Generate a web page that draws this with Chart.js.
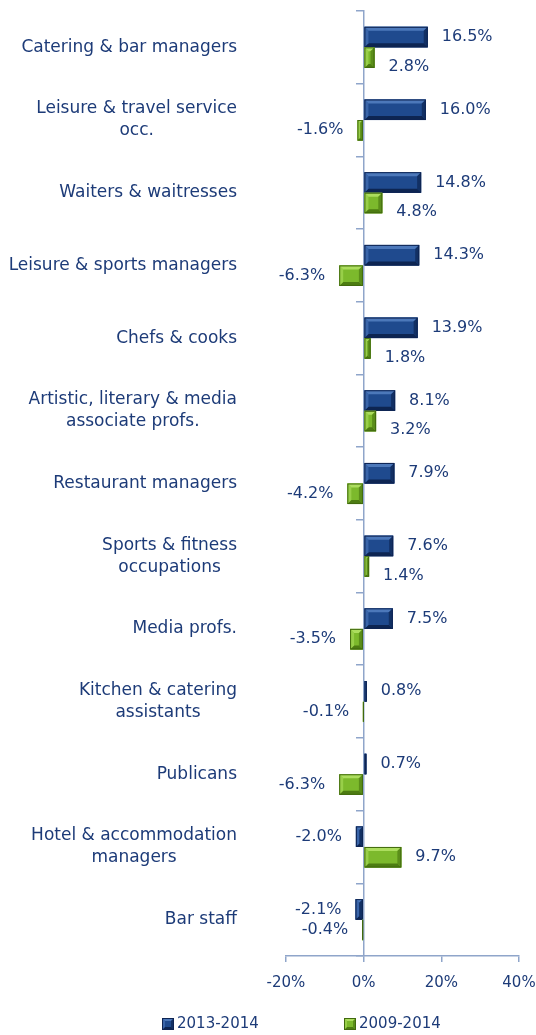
<!DOCTYPE html>
<html>
<head>
<meta charset="utf-8">
<script src="https://cdn.jsdelivr.net/npm/chart.js@4/dist/chart.umd.min.js"></script>
<style>
  html, body { margin: 0; padding: 0; background: #fff; }
</style>
</head>
<body>
<canvas id="occ-chart" width="536" height="1035"></canvas>
<script>
// occupations, top to bottom (multi-line labels as arrays)
var CATEGORIES = [
  ['Catering & bar managers'],
  ['Leisure & travel service', 'occ.'],
  ['Waiters & waitresses'],
  ['Leisure & sports managers'],
  ['Chefs & cooks'],
  ['Artistic, literary & media', 'associate profs.'],
  ['Restaurant managers'],
  ['Sports & fitness', 'occupations'],
  ['Media profs.'],
  ['Kitchen & catering', 'assistants'],
  ['Publicans'],
  ['Hotel & accommodation', 'managers'],
  ['Bar staff']
];
var SERIES_NAMES = ['2013-2014', '2009-2014'];
var CHANGE_2013_2014 = [16.5, 16.0, 14.8, 14.3, 13.9, 8.1, 7.9, 7.6, 7.5, 0.8, 0.7, -2.0, -2.1];
var CHANGE_2009_2014 = [2.8, -1.6, 4.8, -6.3, 1.8, 3.2, -4.2, 1.4, -3.5, -0.1, -6.3, 9.7, -0.4];
var X_TICKS = [-20, 0, 20, 40];

var TEXT = '#1D3B78';
var AXIS = '#8FA5CA';
var FONT = 'DejaVu Sans';

// face / highlight / shade / outline for each series
var SKINS = [
  { face: '#1F4A8E', light: '#4C78BA', dark: '#0D2552', line: '#0E2452' },
  { face: '#7CB92C', light: '#ACDD5E', dark: '#4D7C12', line: '#41690E' }
];

Chart.defaults.font.family = FONT;

function bevelRect(ctx, L, T, R, B, skin, size) {
  var b = Math.min(size, (R - L) / 2, (B - T) / 2);
  ctx.save();
  ctx.fillStyle = skin.face;
  ctx.fillRect(L, T, R - L, B - T);
  function quad(pts, col, alpha) {
    ctx.globalAlpha = alpha;
    ctx.fillStyle = col;
    ctx.beginPath();
    ctx.moveTo(pts[0], pts[1]);
    for (var i = 2; i < pts.length; i += 2) ctx.lineTo(pts[i], pts[i + 1]);
    ctx.closePath();
    ctx.fill();
  }
  quad([L, T, R, T, R - b, T + b, L + b, T + b], skin.light, 1);
  quad([L, B, R, B, R - b, B - b, L + b, B - b], skin.dark, 1);
  quad([L, T, L + b, T + b, L + b, B - b, L, B], skin.light, 0.6);
  quad([R, T, R - b, T + b, R - b, B - b, R, B], skin.dark, 0.7);
  ctx.globalAlpha = 1;
  ctx.strokeStyle = skin.line;
  ctx.lineWidth = 1;
  ctx.strokeRect(L + 0.5, T + 0.5, R - L - 1, B - T - 1);
  ctx.restore();
}

// bevelled bars on top of the plain fills
var bevelBars = {
  id: 'bevelBars',
  afterDatasetsDraw: function(chart) {
    var ctx = chart.ctx;
    chart.data.datasets.forEach(function(ds, di) {
      chart.getDatasetMeta(di).data.forEach(function(bar) {
        var p = bar.getProps(['x', 'y', 'base', 'height'], true);
        var L = Math.min(p.x, p.base), R = Math.max(p.x, p.base);
        if (R - L < 1) R = L + 1;
        bevelRect(ctx, L, p.y - p.height / 2, R, p.y + p.height / 2, SKINS[di], 4);
      });
    });
  }
};

// value labels, category labels and legend
var textLayer = {
  id: 'textLayer',
  afterDraw: function(chart) {
    var ctx = chart.ctx;
    ctx.save();
    ctx.fillStyle = TEXT;
    ctx.textBaseline = 'middle';

    // value labels at the bar ends
    ctx.font = '16px ' + FONT;
    chart.data.datasets.forEach(function(ds, di) {
      chart.getDatasetMeta(di).data.forEach(function(bar, i) {
        var v = ds.data[i];
        var p = bar.getProps(['x', 'y'], true);
        var dy = 0;
        if (di === 1 && v >= 0 && CHANGE_2013_2014[i] >= 0) dy = 9;
        var txt = v.toFixed(1) + '%';
        if (v >= 0) {
          ctx.textAlign = 'left';
          ctx.fillText(txt, p.x + 14, p.y + dy);
        } else {
          ctx.textAlign = 'right';
          ctx.fillText(txt, p.x - 14, p.y + dy);
        }
      });
    });

    // category labels: block right-aligned, lines centred within it
    var yScale = chart.scales.y;
    var rightEdge = 237, lineH = 22;
    ctx.font = '17px ' + FONT;
    ctx.textAlign = 'center';
    CATEGORIES.forEach(function(lines, i) {
      var w = 0;
      lines.forEach(function(s) { w = Math.max(w, ctx.measureText(s).width); });
      var cx = rightEdge - w / 2;
      var cy = yScale.getPixelForValue(i);
      lines.forEach(function(s, k) {
        ctx.fillText(s, cx, cy + (k - (lines.length - 1) / 2) * lineH);
      });
    });

    // legend
    var legendY = 1024;
    var items = [{ x: 162 }, { x: 344 }];
    ctx.font = '15px ' + FONT;
    ctx.textAlign = 'left';
    SERIES_NAMES.forEach(function(name, di) {
      var x = items[di].x;
      bevelRect(ctx, x, legendY - 6, x + 12, legendY + 6, SKINS[di], 3);
      ctx.fillStyle = TEXT;
      ctx.fillText(name, x + 15, legendY);
    });
    ctx.restore();
  }
};

new Chart(document.getElementById('occ-chart'), {
  type: 'bar',
  data: {
    labels: CATEGORIES,
    datasets: [
      { label: SERIES_NAMES[0], data: CHANGE_2013_2014, backgroundColor: SKINS[0].face },
      { label: SERIES_NAMES[1], data: CHANGE_2009_2014, backgroundColor: SKINS[1].face }
    ]
  },
  options: {
    indexAxis: 'y',
    responsive: false,
    animation: false,
    categoryPercentage: 0.565,
    barPercentage: 1.0,
    layout: { padding: { left: 286, right: 17, top: 11, bottom: 31 } },
    plugins: { legend: { display: false }, tooltip: { enabled: false } },
    scales: {
      x: {
        min: -20, max: 40,
        afterBuildTicks: function(s) { s.ticks = X_TICKS.map(function(v) { return { value: v }; }); },
        afterFit: function(s) { s.paddingLeft = 0; s.paddingRight = 0; },
        ticks: { color: TEXT, font: { size: 15 }, padding: 12, callback: function(v) { return v + '%'; } },
        grid: { drawOnChartArea: false, tickLength: 6, color: AXIS, lineWidth: 1.5 },
        border: { color: AXIS, width: 1.5 }
      },
      y: {
        position: { x: 0 },
        ticks: { display: false },
        grid: { offset: true, drawOnChartArea: false, tickLength: 7, color: AXIS, lineWidth: 1.5 },
        border: { color: AXIS, width: 1.5 }
      }
    }
  },
  plugins: [bevelBars, textLayer]
});
</script>
</body>
</html>
